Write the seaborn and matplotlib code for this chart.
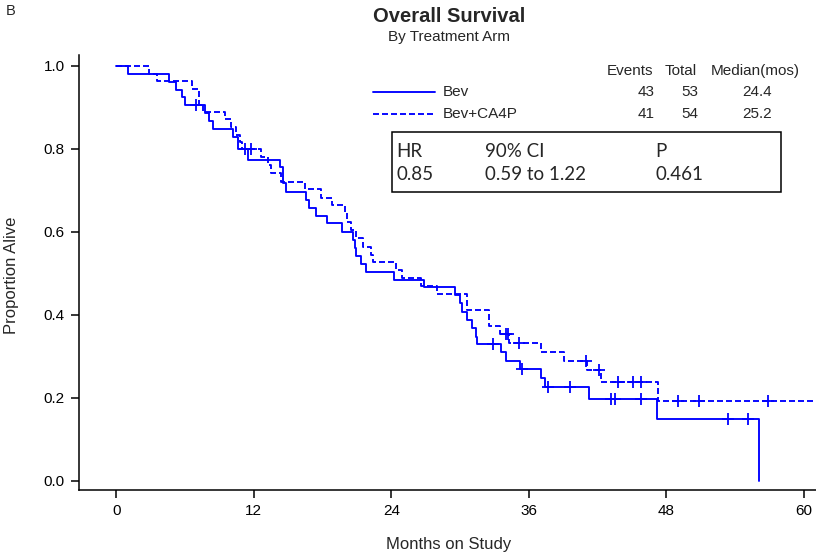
import numpy as np
import pandas as pd
import matplotlib
matplotlib.use('Agg')
import matplotlib.pyplot as plt
from matplotlib.lines import Line2D
from matplotlib.patches import Rectangle
import seaborn as sns

# step points (months, proportion alive)
bev_t = [0, 1.05, 4.57, 5.21, 5.74, 6.03, 7.75, 8.12, 8.41, 10.2, 10.65,
         11.47, 14.24, 14.53, 14.82, 16.57, 16.8, 17.38, 18.37,
         19.68, 20.64, 20.79, 20.93, 21.37, 21.81, 24.22, 26.84,
         29.52, 29.96, 30.16, 30.6, 31.03, 31.41, 31.47, 33.54, 33.97, 35.2,
         37.09, 37.38, 41.25, 47.22, 56.1]
bev_s = [1.0, 0.981, 0.962, 0.943, 0.925, 0.906, 0.887, 0.868, 0.849, 0.828, 0.80,
         0.773, 0.757, 0.717, 0.697, 0.677, 0.658, 0.639, 0.621,
         0.601, 0.581, 0.561, 0.542, 0.523, 0.504, 0.485, 0.467,
         0.448, 0.428, 0.408, 0.388, 0.368, 0.348, 0.330, 0.310, 0.290, 0.270,
         0.247, 0.226, 0.198, 0.149, 0.0]
bev_cens = [6.96, 32.86, 35.37, 37.67, 39.56, 43.12, 43.55, 45.74, 53.39, 55.08]

ca_t = [0, 2.82, 3.55, 6.58, 7.19, 7.54, 9.48, 10.02, 10.45, 10.75, 11.0,
        12.64, 13.21, 13.51, 14.38, 16.48, 17.82, 18.84, 19.97, 20.1, 20.5,
        20.93, 21.51, 22.24, 22.38, 24.43, 24.95, 26.61, 27.97,
        30.59, 32.49, 33.45, 34.26, 37.09, 39.04, 41.11, 42.27, 47.28, 62]
ca_s = [1.0, 0.981, 0.963, 0.944, 0.907, 0.89, 0.872, 0.852, 0.834, 0.816, 0.80,
        0.781, 0.761, 0.741, 0.721, 0.703, 0.683, 0.664, 0.645, 0.625, 0.605,
        0.585, 0.565, 0.545, 0.528, 0.508, 0.489, 0.471, 0.451,
        0.412, 0.373, 0.354, 0.333, 0.312, 0.290, 0.267, 0.239, 0.193, 0.193]
ca_cens = [11.2, 11.76, 33.97, 34.17, 35.17, 41.02, 42.12, 43.78, 45.09, 45.82,
           49.02, 50.83, 56.88]

arms = ['Bev', 'Bev+CA4P']
events = [43, 41]
totals = [53, 54]
medians = ['24.4', '25.2']
hr_head = ['HR', '90% CI', 'P']
hr_vals = ['0.85', '0.59 to 1.22', '0.461']
x_ticks = [0, 12, 24, 36, 48, 60]
y_ticks = [0.0, 0.2, 0.4, 0.6, 0.8, 1.0]

sns.set_theme(style='ticks')
plt.rcParams['font.family'] = ['Liberation Sans', 'DejaVu Sans']

curves = pd.concat([
    pd.DataFrame({'Months': bev_t, 'Survival': bev_s, 'Arm': arms[0]}),
    pd.DataFrame({'Months': ca_t, 'Survival': ca_s, 'Arm': arms[1]}),
])


def surv_at(times, surv, c):
    idx = np.searchsorted(times, c, side='right') - 1
    return np.asarray(surv)[idx]


cens = pd.concat([
    pd.DataFrame({'Months': bev_cens, 'Survival': surv_at(bev_t, bev_s, bev_cens), 'Arm': arms[0]}),
    pd.DataFrame({'Months': ca_cens, 'Survival': surv_at(ca_t, ca_s, ca_cens), 'Arm': arms[1]}),
])

W, H = 816, 554
fig = plt.figure(figsize=(W / 100, H / 100), dpi=100)
ax = fig.add_axes([78.5 / W, 1 - 490 / H, (W - 78.5) / W, (490 - 55) / H])

blue = '#0000ff'
lw = 1.35
dash = (3.2, 1.6)
sns.lineplot(data=curves, x='Months', y='Survival', hue='Arm', style='Arm',
             palette={arms[0]: blue, arms[1]: blue},
             dashes={arms[0]: '', arms[1]: dash},
             estimator=None, sort=False, drawstyle='steps-post',
             linewidth=lw, legend=False, ax=ax)
sns.scatterplot(data=cens, x='Months', y='Survival', marker='+', s=70,
                color=blue, linewidth=1.3, legend=False, ax=ax, zorder=3)

ax.set_xlim(-3.3, 61.05)
ax.set_ylim(-0.0217, 1.0265)
ax.set_xticks(x_ticks)
ax.set_yticks(y_ticks)
ax.set_yticklabels([f'{v:.1f}' for v in y_ticks])
ax.set_xlabel('')
ax.set_ylabel('')
ax.tick_params(axis='both', length=6, width=1.1, color='black',
               labelsize=11, labelcolor='black', pad=4)
for side in ['left', 'bottom']:
    ax.spines[side].set_color('black')
    ax.spines[side].set_linewidth(1.1)
sns.despine(ax=ax)


def fx(px):
    return px / W


def fy(py):
    return 1 - py / H


fig.text(fx(6), fy(11), 'B', fontsize=10.5, ha='left', va='center')
fig.text(fx(449), fy(16), 'Overall Survival', fontsize=14.5, fontweight='bold',
         ha='center', va='center')
fig.text(fx(449), fy(37), 'By Treatment Arm', fontsize=11, ha='center', va='center')
fig.text(fx(12), fy(275), 'Proportion Alive', fontsize=12, rotation=90,
         ha='center', va='center')
fig.text(fx(449), fy(544), 'Months on Study', fontsize=12, ha='center', va='center')

# legend table
leg_fs = 11
fig.text(fx(630), fy(71), 'Events', fontsize=leg_fs, ha='center', va='center')
fig.text(fx(680.5), fy(71), 'Total', fontsize=leg_fs, ha='center', va='center')
fig.text(fx(755.5), fy(71), 'Median(mos)', fontsize=leg_fs, ha='center', va='center')
rows_y = [92.3, 114.3]
for i, arm in enumerate(arms):
    y = rows_y[i]
    ls = '-' if i == 0 else (0, dash)
    fig.add_artist(Line2D([fx(373), fx(435)], [fy(y), fy(y)], color=blue,
                          linewidth=lw, linestyle=ls))
    fig.text(fx(443), fy(y), arm, fontsize=leg_fs, ha='left', va='center')
    fig.text(fx(655), fy(y), str(events[i]), fontsize=leg_fs, ha='right', va='center')
    fig.text(fx(698), fy(y), str(totals[i]), fontsize=leg_fs, ha='right', va='center')
    fig.text(fx(771.7), fy(y), medians[i], fontsize=leg_fs, ha='right', va='center')

# hazard ratio box
fig.add_artist(Rectangle((fx(391.7), fy(191.7)), fx(780.7) - fx(391.7),
                         fy(132.3) - fy(191.7), fill=False, edgecolor='black',
                         linewidth=1.1))
box_x = [396.7, 485, 655]
for j in range(3):
    fig.text(fx(box_x[j]), fy(151.7), hr_head[j], fontsize=13.5, family='Lato',
             ha='left', va='center')
    fig.text(fx(box_x[j]), fy(174.3), hr_vals[j], fontsize=13.5, family='Lato',
             ha='left', va='center')

fig.savefig('out.png', dpi=100)
